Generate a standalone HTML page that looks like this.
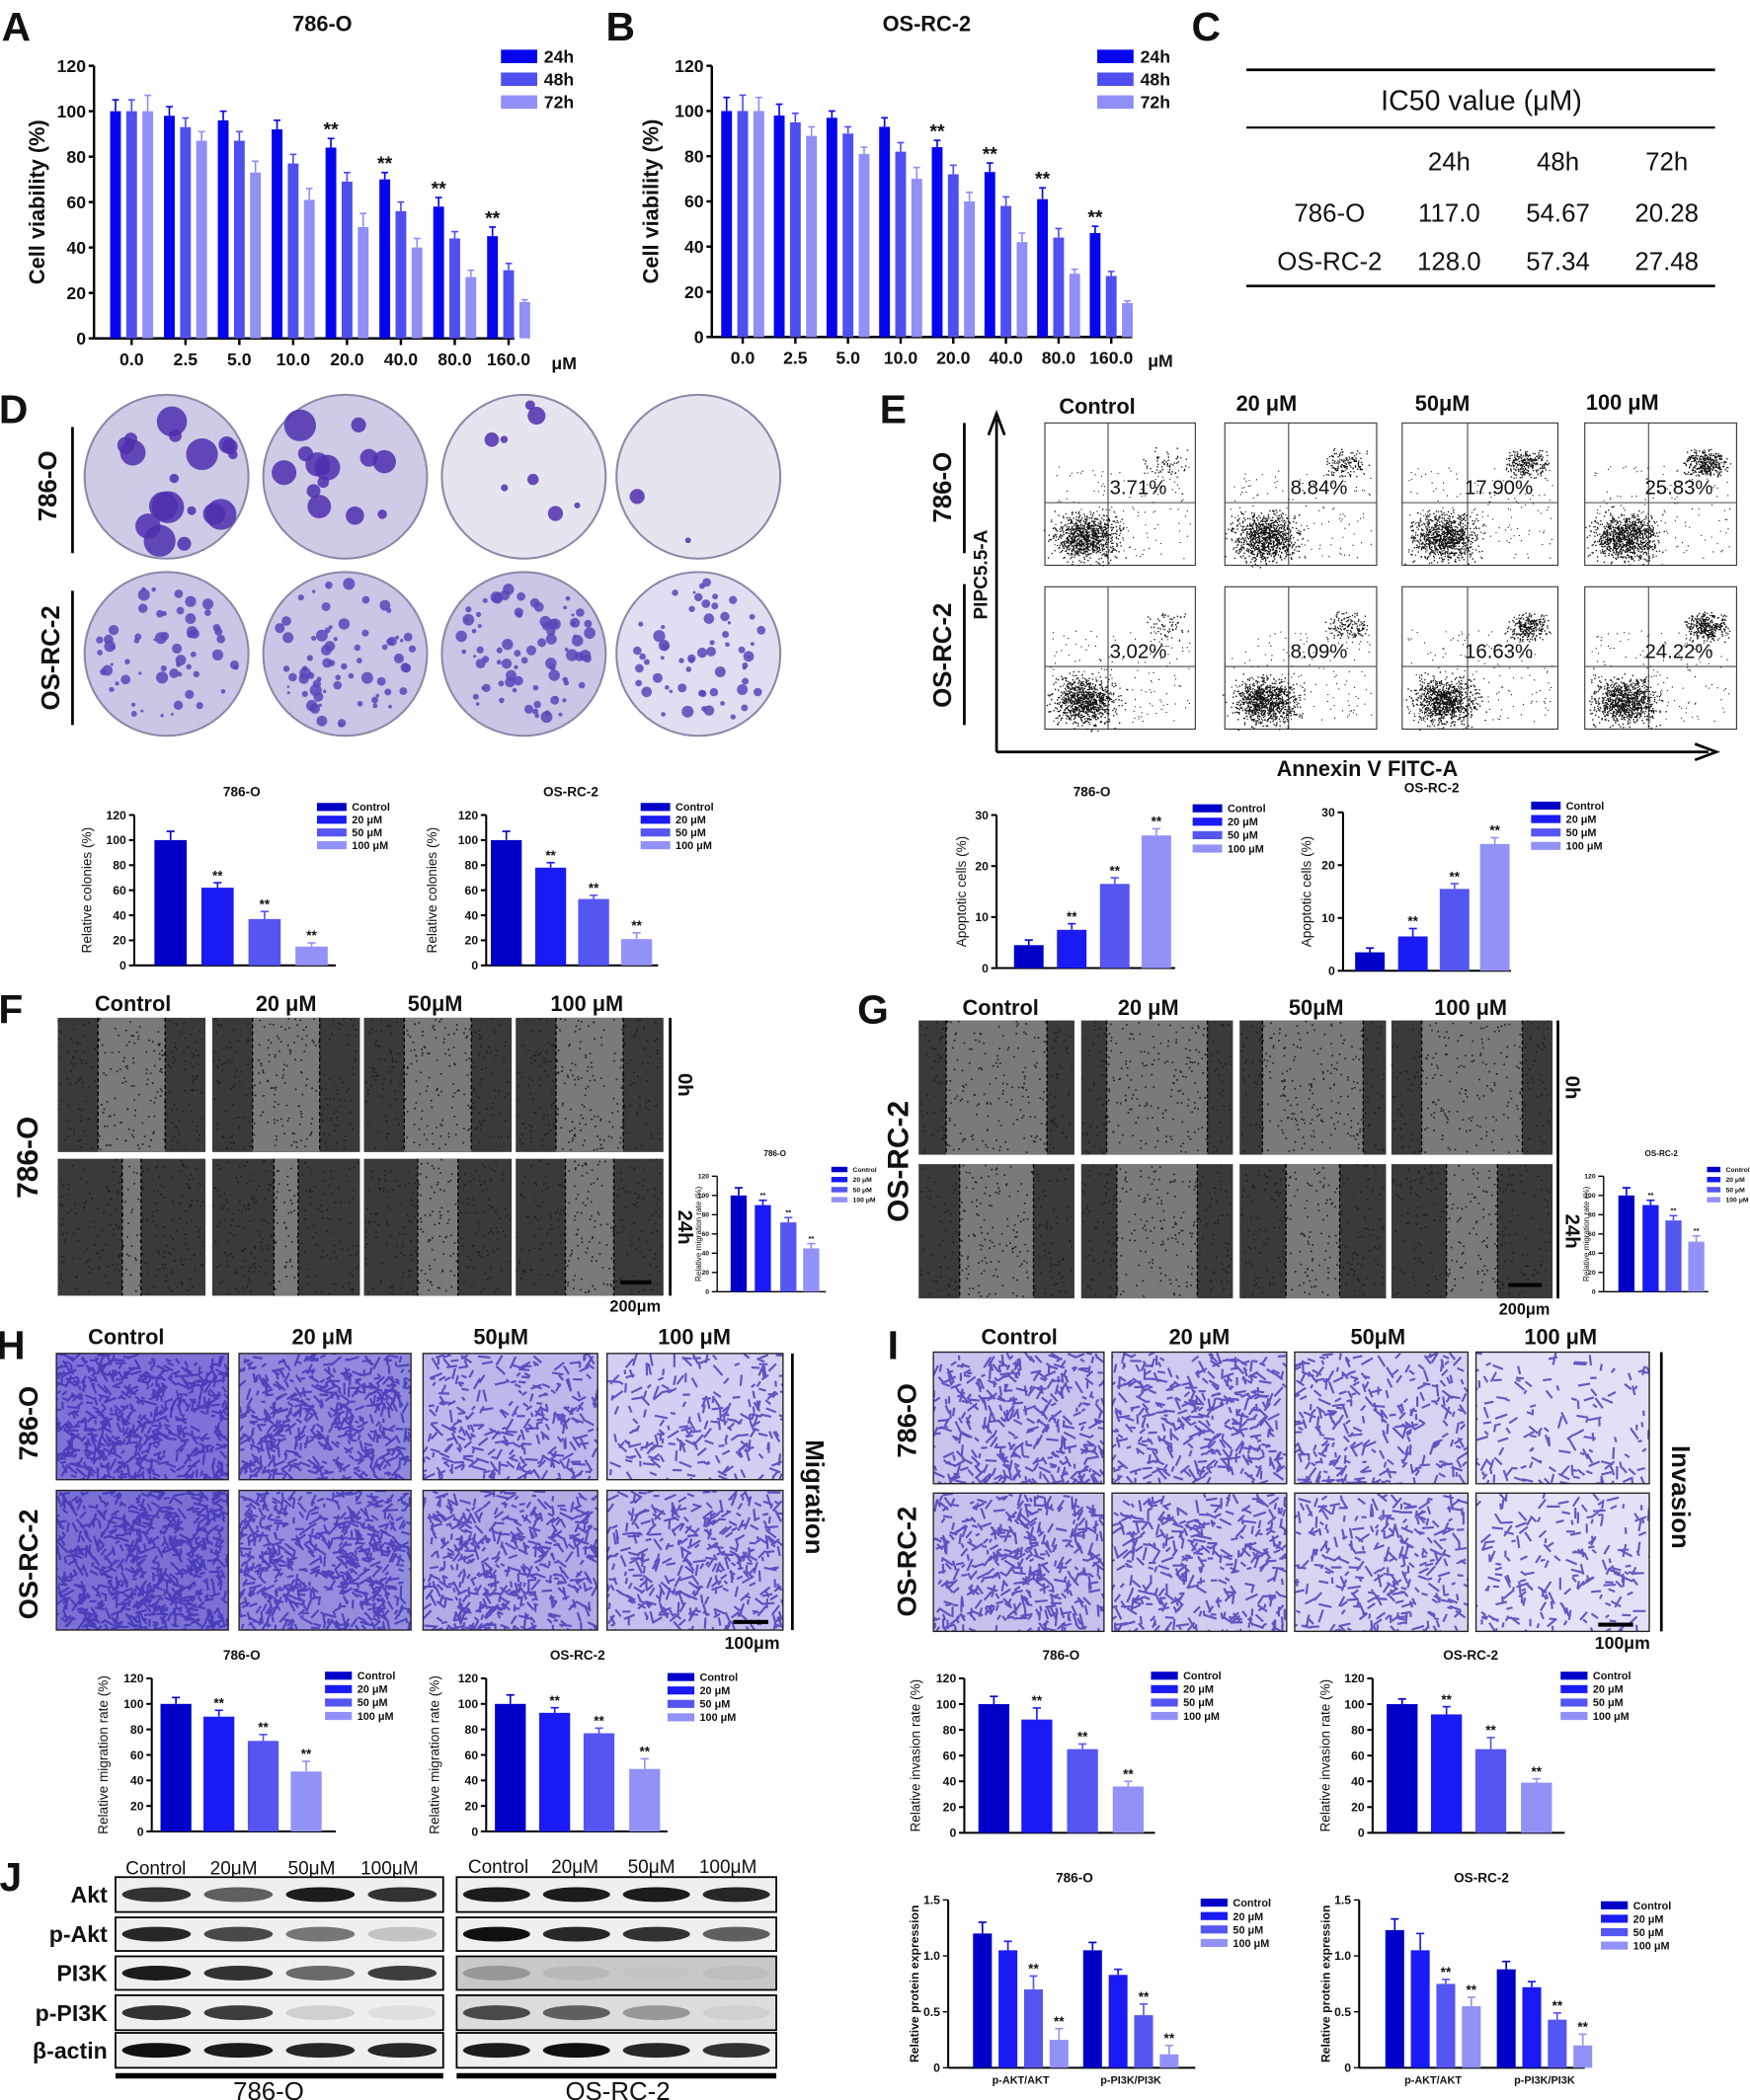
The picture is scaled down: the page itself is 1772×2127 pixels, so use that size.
<!DOCTYPE html>
<html><head><meta charset="utf-8"><style>
html,body{margin:0;padding:0;background:#fff}
svg{display:block}
text{font-family:"Liberation Sans",sans-serif}
</style></head><body>
<svg id="fig" width="1772" height="2127" viewBox="0 0 1303 1564" preserveAspectRatio="none" xmlns="http://www.w3.org/2000/svg"></svg>
<script>
// ===== chart data =====
const concLabels=["0.0","2.5","5.0","10.0","20.0","40.0","80.0","160.0"];
const timeLabels=["24h","48h","72h"];
const a24=[100,98,96,92,84,70,58,45];
const a48=[100,93,87,77,69,56,44,30];
const a72=[100,87,73,61,49,40,27,16];
const aErr24=[5,4,4,4,4,3,4,4];
const aErr48=[5,4,4,4,4,4,3,3];
const aErr72=[7,4,5,5,6,4,3,1];
const b24=[100,98,97,93,84,73,61,46];
const b48=[100,95,90,82,72,58,44,27];
const b72=[100,89,81,70,60,42,28,15];
const bErr24=[6,5,3,4,3,4,5,3];
const bErr48=[7,4,3,4,4,4,4,2];
const bErr72=[6,4,3,5,4,4,2,1];
const doseLabels=["Control","20 μM","50 μM","100 μM"];
const dColony786=[100,62,37,15];   const dColonyErr786=[7,4,6,3];
const dColonyOS=[100,78,53,21];    const dColonyErrOS=[7,4,3,5];
const eApop786=[4.5,7.5,16.5,26];  const eApopErr786=[1,1.2,1.2,1.3];
const eApopOS=[3.5,6.5,15.5,24];   const eApopErrOS=[0.8,1.5,1,1.2];
const fMig786=[100,90,72,45];      const fMigErr786=[8,5,5,5];
const gMigOS=[100,90,74,52];       const gMigErrOS=[8,5,5,6];
const hMig786=[100,90,71,47];      const hMigErr786=[5,5,5,8];
const hMigOS=[100,93,77,49];       const hMigErrOS=[7,4,4,8];
const iInv786=[100,88,65,36];      const iInvErr786=[6,9,4,4];
const iInvOS=[100,92,65,39];       const iInvErrOS=[4,6,9,3];
const jGroups=["p-AKT/AKT","p-PI3K/PI3K"];
const jAkt786=[1.2,1.05,0.7,0.25];   const jAktErr786=[0.1,0.08,0.12,0.1];
const jPi786=[1.05,0.83,0.47,0.12];  const jPiErr786=[0.07,0.05,0.1,0.08];
const jAktOS=[1.23,1.05,0.75,0.55];  const jAktErrOS=[0.1,0.15,0.04,0.08];
const jPiOS=[0.88,0.72,0.43,0.2];    const jPiErrOS=[0.07,0.05,0.06,0.1];
const ic50Rows=[["786-O","117.0","54.67","20.28"],["OS-RC-2","128.0","57.34","27.48"]];
const flowPct=[["3.71%","8.84%","17.90%","25.83%"],["3.02%","8.09%","16.63%","24.22%"]];

const NS="http://www.w3.org/2000/svg";
const svg=document.getElementById('fig');
const defs=document.createElementNS(NS,'defs');svg.appendChild(defs);
let clipN=0;
function el(tag,attrs,parent,txt){const e=document.createElementNS(NS,tag);for(const k in attrs)e.setAttribute(k,attrs[k]);if(txt!==undefined)e.textContent=txt;(parent||svg).appendChild(e);return e;}
function txt(x,y,s,size,opt,parent){opt=opt||{};const t=el('text',{x:x,y:y,'font-size':size,'text-anchor':opt.anchor||'middle','font-weight':opt.weight||'bold',fill:opt.fill||'#111'},parent,s);if(opt.rot)t.setAttribute('transform','rotate('+opt.rot+' '+x+' '+y+')');if(opt.ff)t.setAttribute('style','font-family:'+opt.ff);return t;}
function clipRect(x,y,w,h){const id='c'+(clipN++);const cp=el('clipPath',{id:id},defs);el('rect',{x:x,y:y,width:w,height:h},cp);return 'url(#'+id+')';}
let seed=12345;function rnd(){seed=(seed*16807)%2147483647;return (seed-1)/2147483646;}
const C4=["#0000c8","#1a1af5","#5555f2","#9292f6"];
const C3=["#0505ee","#4f4ff0","#8f8ff6"];
const NAR='"Liberation Sans Narrow","Liberation Sans",sans-serif';

function barChart(o){
  const g=el('g',{},svg);
  
  
  const sy=v=>o.y0-(v/o.ymax)*(o.y0-o.ytop);
  el('line',{x1:o.ax,y1:o.ytop,x2:o.ax,y2:o.y0,stroke:'#000','stroke-width':o.lw},g);
  el('line',{x1:o.ax,y1:o.y0,x2:o.xend,y2:o.y0,stroke:'#000','stroke-width':o.lw},g);
  o.ticks.forEach(t=>{const y=sy(t);el('line',{x1:o.ax-4,y1:y,x2:o.ax,y2:y,stroke:'#000','stroke-width':o.lw},g);
    const lab=txt(o.ax-6,y+o.fs*0.35,String(t),o.fs,{anchor:'end'},g);});
  o.series.forEach((s,si)=>{s.forEach((v,i)=>{
    const cx=o.centers[i]+(si-(o.series.length-1)/2)*o.step;
    const r=el('rect',{x:cx-o.bw/2,y:sy(v),width:o.bw,height:o.y0-sy(v),fill:o.colors[si]},g);
    
    if(o.errs){const e=o.errs[si][i];const ey=sy(v+e);el('line',{x1:cx,y1:sy(v),x2:cx,y2:ey,stroke:o.colors[si],'stroke-width':1.2},g);el('line',{x1:cx-2.5,y1:ey,x2:cx+2.5,y2:ey,stroke:o.colors[si],'stroke-width':1.2},g);
      if(o.stars&&o.stars[si][i]){txt(cx,ey-2,'**',o.fs*1.1,{},g);}}
  });});
  if(o.xlabels){o.xlabels.forEach((l,i)=>{el('line',{x1:o.centers[i],y1:o.y0,x2:o.centers[i],y2:o.y0+5,stroke:'#000','stroke-width':o.lw},g);txt(o.centers[i],o.y0+o.xfs+7,l,o.xfs,{},g);});}
  if(o.title)txt(o.tx,o.ty,o.title,o.tfs||o.fs*1.1,{},g);
  if(o.ylabel)txt(o.ylx,(o.ytop+o.y0)/2,o.ylabel,o.yfs||o.fs,{rot:-90,weight:o.ylw||'normal'},g);
  if(o.legend){o.legend.labels.forEach((l,i)=>{const ly=o.legend.y+i*o.legend.dy;
    const lr=el('rect',{x:o.legend.x,y:ly-o.legend.h/2,width:o.legend.w,height:o.legend.h,fill:o.colors[i]},g);
    
    txt(o.legend.x+o.legend.w+5,ly+o.legend.fs*0.35,l,o.legend.fs,{anchor:'start'},g);});}
  return g;
}

[["A",12,30],["B",462,30],["C",898,30],["D",10,315],["E",665,315],["F",8,762],["G",650,762],["H",8,1012],["I",665,1012],["J",8,1408]].forEach(p=>{const t=txt(p[1],p[2],p[0],30,{ff:NAR});});

function range(n){return Array.from({length:n},(_,i)=>i);}
const starA=[[0,0,0,0,1,1,1,1],[0,0,0,0,0,0,0,0],[0,0,0,0,0,0,0,0]];
barChart({name:'chart-a-786o',ax:70,y0:252,ytop:49,ymax:120,xend:383,ticks:[0,20,40,60,80,100,120],lw:1.8,fs:13,
  centers:range(8).map(i=>98+i*40.1),series:[a24,a48,a72],errs:[aErr24,aErr48,aErr72],stars:starA,colors:C3,bw:8,step:12,
  xlabels:concLabels,xfs:13,title:'786-O',tx:240,ty:23,tfs:16,ylabel:'Cell viability (%)',ylx:33,yfs:16,ylw:'bold',
  legend:{x:373,y:42,dy:17,w:27,h:10,fs:13,labels:timeLabels}});
txt(420,275,'μM',13);
barChart({name:'chart-b-osrc2',ax:530,y0:251,ytop:49,ymax:120,xend:843,ticks:[0,20,40,60,80,100,120],lw:1.8,fs:13,
  centers:range(8).map(i=>553+i*39.2),series:[b24,b48,b72],errs:[bErr24,bErr48,bErr72],stars:starA,colors:C3,bw:8,step:12,
  xlabels:concLabels,xfs:13,title:'OS-RC-2',tx:690,ty:23,tfs:16,ylabel:'Cell viability (%)',ylx:490,yfs:16,ylw:'bold',
  legend:{x:817,y:42,dy:17,w:27,h:10,fs:13,labels:timeLabels}});
txt(864,273,'μM',13);

(function(){const g=el('g',{},svg);
el('line',{x1:928,y1:52,x2:1277,y2:52,stroke:'#000','stroke-width':2},g);
el('line',{x1:928,y1:95,x2:1277,y2:95,stroke:'#000','stroke-width':1.5},g);
el('line',{x1:928,y1:213,x2:1277,y2:213,stroke:'#000','stroke-width':2},g);
txt(1103,82,'IC50 value (μM)',21,{ff:NAR,weight:'normal'},g);
["24h","48h","72h"].forEach((h,i)=>txt(1079+i*81,127,h,19,{ff:NAR,weight:'normal'},g));
ic50Rows.forEach((r,ri)=>{const y=165+ri*36;txt(990,y,r[0],19,{ff:NAR,weight:'normal'},g);for(let k=1;k<4;k++)txt(998+k*81,y,r[k],19,{ff:NAR,weight:'normal'},g);});})();

const doseHdr=["Control","20 μM","50 μM","100 μM"];
[124,257,390,520].forEach((x,i)=>txt(x,316,doseHdr[i],17,{ff:NAR}));
const colonyCounts=[[18,14,8,2],[60,70,80,60]];
[[355,0],[487,1]].forEach(([cy,row])=>{[124,257,390,520].forEach((cx,ci)=>{
  const g=el('g',{},svg);
  const bg=row===1?(ci<3?'#c9c6e6':'#e0def0'):(ci<2?'#cfcbe6':'#e6e4ee');
  el('circle',{cx:cx,cy:cy,r:61,fill:bg,stroke:'#8a88a8','stroke-width':1.5},g);
  const n=colonyCounts[row][ci];
  for(let k=0;k<n;k++){const a=rnd()*6.28,rr=Math.sqrt(rnd())*54;const s=row===0?(ci<2?3+rnd()*9:2+rnd()*5):1+rnd()*3.5;
    el('circle',{cx:cx+Math.cos(a)*rr,cy:cy+Math.sin(a)*rr,r:s,fill:row===0?'#4d2fae':'#5a45b8','fill-opacity':0.85},g);}
});});
txt(42,362,'786-O',19,{rot:-90,ff:NAR});el('line',{x1:54,y1:318,x2:54,y2:412,stroke:'#000','stroke-width':2});
txt(44,490,'OS-RC-2',19,{rot:-90,ff:NAR});el('line',{x1:54,y1:440,x2:54,y2:540,stroke:'#000','stroke-width':2});

function doseChart(o){
  const g=barChart(Object.assign({},o,{series:[o.vals.map(()=>0)],errs:null,colors:['none'],step:0,legend:null}));
  const sy=v=>o.y0-(v/o.ymax)*(o.y0-o.ytop);
  o.vals.forEach((v,i)=>{const cx=o.centers[i];
    const r=el('rect',{x:cx-o.bw/2,y:sy(v),width:o.bw,height:o.y0-sy(v),fill:C4[i]},g);
    
    const ey=sy(v+o.errs[i]);el('line',{x1:cx,y1:sy(v),x2:cx,y2:ey,stroke:C4[i],'stroke-width':1.2},g);el('line',{x1:cx-3,y1:ey,x2:cx+3,y2:ey,stroke:C4[i],'stroke-width':1.2},g);
    if(i>0)txt(cx,ey-2,'**',o.fs*1.1,{},g);});
  if(o.leg){doseLabels.forEach((l,i)=>{const ly=o.leg.y+i*o.leg.dy;
    const lr=el('rect',{x:o.leg.x,y:ly-o.leg.h/2,width:o.leg.w,height:o.leg.h,fill:C4[i]},g);
    
    txt(o.leg.x+o.leg.w+4,ly+o.leg.fs*0.35,l,o.leg.fs,{anchor:'start'},g);});}
}
doseChart({name:'chart-d-786o',ax:100,y0:719,ytop:607,ymax:120,xend:250,ticks:[0,20,40,60,80,100,120],lw:1.5,fs:9,
  centers:[127,162,197,232],vals:dColony786,errs:dColonyErr786,bw:24,title:'786-O',tx:180,ty:593,tfs:10,
  ylabel:'Relative colonies (%)',ylx:68,yfs:10,leg:{x:236,y:601,dy:9.5,w:22,h:6,fs:8}});
doseChart({name:'chart-d-osrc2',ax:362,y0:719,ytop:607,ymax:120,xend:490,ticks:[0,20,40,60,80,100,120],lw:1.5,fs:9,
  centers:[377,410,442,474],vals:dColonyOS,errs:dColonyErrOS,bw:23,title:'OS-RC-2',tx:425,ty:593,tfs:10,
  ylabel:'Relative colonies (%)',ylx:325,yfs:10,leg:{x:477,y:601,dy:9.5,w:22,h:6,fs:8}});

txt(817,308,'Control',16,{ff:NAR});txt(943,306,'20 μM',16,{ff:NAR});txt(1074,306,'50μM',16,{ff:NAR});txt(1208,305,'100 μM',16,{ff:NAR});
el('line',{x1:742,y1:560,x2:742,y2:312,stroke:'#000','stroke-width':2});el('path',{d:'M736,324 L742,308 L748,324',fill:'none',stroke:'#000','stroke-width':2});
el('line',{x1:742,y1:560,x2:1272,y2:560,stroke:'#000','stroke-width':2});el('path',{d:'M1262,554 L1278,560 L1262,566',fill:'none',stroke:'#000','stroke-width':2});
txt(1018,578,'Annexin V FITC-A',16,{ff:NAR});
txt(735,428,'PIPC5.5-A',14,{rot:-90,ff:NAR});
txt(708,363,'786-O',19,{rot:-90,ff:NAR});el('line',{x1:718,y1:315,x2:718,y2:412,stroke:'#000','stroke-width':2});
txt(708,488,'OS-RC-2',19,{rot:-90,ff:NAR});el('line',{x1:718,y1:435,x2:718,y2:540,stroke:'#000','stroke-width':2});
const flowX=[778,912,1044,1180],flowW=[112,113,116,113];
[[315,0],[437,1]].forEach(([y,row])=>{flowX.forEach((x,ci)=>{
  const g=el('g',{},svg);
  const w=flowW[ci],h=106;el('rect',{x:x,y:y,width:w,height:h,fill:'#fff',stroke:'#333','stroke-width':0.8},g);
  const qx=x+w*0.42,qy=y+h*0.56;el('line',{x1:qx,y1:y,x2:qx,y2:y+h,stroke:'#444','stroke-width':0.8},g);el('line',{x1:x,y1:qy,x2:x+w,y2:qy,stroke:'#444','stroke-width':0.8},g);
  let p='';const cx=x+w*0.27,cy=y+h*0.8;
  for(let k=0;k<900;k++){const dx=(rnd()+rnd()+rnd()-1.5)*22,dy=(rnd()+rnd()+rnd()-1.5)*16;p+='M'+(cx+dx).toFixed(1)+','+(cy+dy).toFixed(1)+'h1v1h-1z';}
  for(let k=0;k<150;k++){p+='M'+(x+4+rnd()*(w-8)).toFixed(1)+','+(y+h*0.3+rnd()*h*0.65).toFixed(1)+'h0.8v0.8h-0.8z';}
  const nUR=[60,140,260,330][ci];const ux=x+w*0.8,uy=y+h*0.28;
  for(let k=0;k<nUR;k++){const dx=(rnd()+rnd()-1)*18,dy=(rnd()+rnd()-1)*12;p+='M'+(ux+dx).toFixed(1)+','+(uy+dy).toFixed(1)+'h1v1h-1z';}
  el('path',{d:p,fill:'#111'},g);
  txt(x+w*0.62,y+h*0.5,flowPct[row][ci],15,{ff:NAR,weight:'normal'},g);
});});

doseChart({name:'chart-e-786o',ax:742,y0:721,ytop:607,ymax:30,xend:875,ticks:[0,10,20,30],lw:1.5,fs:9,
  centers:[766,798,830,861],vals:eApop786,errs:eApopErr786,bw:22,title:'786-O',tx:813,ty:593,tfs:10,
  ylabel:'Apoptotic cells (%)',ylx:719,yfs:10,leg:{x:888,y:602,dy:10,w:22,h:6,fs:8}});
doseChart({name:'chart-e-osrc2',ax:1000,y0:723,ytop:605,ymax:30,xend:1125,ticks:[0,10,20,30],lw:1.5,fs:9,
  centers:[1020,1052,1083,1113],vals:eApopOS,errs:eApopErrOS,bw:22,title:'OS-RC-2',tx:1066,ty:590,tfs:10,
  ylabel:'Apoptotic cells (%)',ylx:976,yfs:10,leg:{x:1140,y:600,dy:10,w:22,h:6,fs:8}});

function wound(xs,ws,ys,hs,gaps,name){xs.forEach((x,ci)=>{ys.forEach((y,ri)=>{
  const g=el('g',{},svg);
  el('rect',{x:x,y:y,width:ws[ci],height:hs[ri],fill:'#3a3a3a'},g);
  const gw=gaps[ri][ci],mx=x+ws[ci]*0.5;
  el('rect',{x:mx-gw/2,y:y,width:gw,height:hs[ri],fill:'#7a7a7a'},g);
  let p='';for(let k=0;k<250;k++){p+='M'+(x+rnd()*(ws[ci]-2)).toFixed(1)+','+(y+rnd()*(hs[ri]-2)).toFixed(1)+'h1.2v1.2h-1.2z';}
  el('path',{d:p,fill:'#1e1e1e'},g);
  el('line',{x1:mx-gw/2,y1:y,x2:mx-gw/2,y2:y+hs[ri],stroke:'#000','stroke-dasharray':'3,2','stroke-width':1},g);
  el('line',{x1:mx+gw/2,y1:y,x2:mx+gw/2,y2:y+hs[ri],stroke:'#000','stroke-dasharray':'3,2','stroke-width':1},g);
});});}
[[99,'Control'],[213,'20 μM'],[324,'50μM'],[437,'100 μM']].forEach(p=>txt(p[0],753,p[1],16,{ff:NAR}));
wound([43,158,271,384],[110,110,110,110],[758,863],[100,102],[[50,50,50,50],[14,18,30,36]],'wound-image-786o');
el('line',{x1:499,y1:758,x2:499,y2:965,stroke:'#000','stroke-width':2});
txt(505,808,'0h',15,{rot:90,ff:NAR});txt(505,914,'24h',15,{rot:90,ff:NAR});
txt(28,862,'786-O',22,{rot:-90,ff:NAR});
el('line',{x1:462,y1:955,x2:485,y2:955,stroke:'#000','stroke-width':3});txt(473,977,'200μm',12,{ff:NAR});
[[745,'Control'],[855,'20 μM'],[980,'50μM'],[1095,'100 μM']].forEach(p=>txt(p[0],756,p[1],16,{ff:NAR}));
wound([684,805,923,1036],[116,113,109,120],[760,867],[100,100],[[75,75,75,75],[55,60,40,38]],'wound-image-osrc2');
el('line',{x1:1160,y1:760,x2:1160,y2:967,stroke:'#000','stroke-width':2});
txt(1166,810,'0h',15,{rot:90,ff:NAR});txt(1166,917,'24h',15,{rot:90,ff:NAR});
txt(676,865,'OS-RC-2',22,{rot:-90,ff:NAR});
el('line',{x1:1123,y1:957,x2:1148,y2:957,stroke:'#000','stroke-width':3});txt(1135,979,'200μm',12,{ff:NAR});

doseChart({name:'chart-f-786o',ax:534,y0:962,ytop:876,ymax:120,xend:615,ticks:[0,20,40,60,80,100,120],lw:1,fs:5,
  centers:[550,568,587,604],vals:fMig786,errs:fMigErr786,bw:12,title:'786-O',tx:577,ty:861,tfs:6,
  ylabel:'Relative migration rate (%)',ylx:522,yfs:6,leg:{x:619,y:871,dy:7.5,w:12,h:4,fs:5}});
doseChart({name:'chart-g-osrc2',ax:1194,y0:962,ytop:876,ymax:120,xend:1272,ticks:[0,20,40,60,80,100,120],lw:1,fs:5,
  centers:[1211,1229,1246,1263],vals:gMigOS,errs:gMigErrOS,bw:12,title:'OS-RC-2',tx:1237,ty:861,tfs:6,
  ylabel:'Relative migration rate (%)',ylx:1183,yfs:6,leg:{x:1271,y:871,dy:7.5,w:10,h:4,fs:5}});

function cells(xs,ws,ys,hs,dens,bgc,name){xs.forEach((x,ci)=>{ys.forEach((y,ri)=>{
  const g=el('g',{},svg);
  el('rect',{x:x,y:y,width:ws[ci],height:hs[ri],fill:bgc[ri][ci]},g);
  let p='';const n=dens[ri][ci];
  for(let k=0;k<n;k++){const px=x+rnd()*ws[ci],py=y+rnd()*hs[ri],a=rnd()*Math.PI,l=3+rnd()*7;
    p+='M'+px.toFixed(1)+','+py.toFixed(1)+'l'+(Math.cos(a)*l).toFixed(1)+','+(Math.sin(a)*l).toFixed(1);}
  el('path',{d:p,stroke:'#3a2cb0','stroke-width':1.6,'stroke-opacity':0.75,fill:'none','clip-path':clipRect(x,y,ws[ci],hs[ri])},g);
  el('rect',{x:x,y:y,width:ws[ci],height:hs[ri],fill:'none',stroke:'#222','stroke-width':1},g);
});});}
[[94,'Control'],[240,'20 μM'],[373,'50μM'],[517,'100 μM']].forEach(p=>txt(p[0],1001,p[1],16,{ff:NAR}));
cells([42,178,315,452],[128,128,130,131],[1008,1110],[94,104],[[600,520,300,220],[700,650,480,380]],
  [['#7d72d8','#9189dc','#bdb8ec','#d2cff2'],['#7a70d4','#948ddd','#b1abe6','#c3bfed']],'migration-image');
el('line',{x1:590,y1:1008,x2:590,y2:1214,stroke:'#000','stroke-width':2});txt(600,1115,'Migration',19,{rot:90,ff:NAR});
txt(28,1060,'786-O',20,{rot:-90,ff:NAR});txt(28,1165,'OS-RC-2',20,{rot:-90,ff:NAR});
el('line',{x1:546,y1:1208,x2:572,y2:1208,stroke:'#000','stroke-width':3});txt(560,1228,'100μm',13,{ff:NAR});
[[759,'Control'],[893,'20 μM'],[1026,'50μM'],[1162,'100 μM']].forEach(p=>txt(p[0],1001,p[1],16,{ff:NAR}));
cells([695,828,964,1099],[127,130,129,129],[1007,1112],[98,103],[[400,380,300,150],[420,380,300,200]],
  [['#c9c4ee','#cfcaf0','#d6d3f2','#e2e0f5'],['#c6c1ec','#d0ccef','#d8d5f2','#e3e1f6']],'invasion-image');
el('line',{x1:1237,y1:1007,x2:1237,y2:1215,stroke:'#000','stroke-width':2});txt(1245,1115,'Invasion',19,{rot:90,ff:NAR});
txt(682,1058,'786-O',20,{rot:-90,ff:NAR});txt(682,1163,'OS-RC-2',20,{rot:-90,ff:NAR});
el('line',{x1:1190,y1:1210,x2:1216,y2:1210,stroke:'#000','stroke-width':3});txt(1208,1228,'100μm',13,{ff:NAR});

doseChart({name:'chart-h-786o',ax:113,y0:1364,ytop:1250,ymax:120,xend:250,ticks:[0,20,40,60,80,100,120],lw:1.5,fs:9,
  centers:[131,163,196,228],vals:hMig786,errs:hMigErr786,bw:23,title:'786-O',tx:180,ty:1236,tfs:10,
  ylabel:'Relative migration rate (%)',ylx:80,yfs:10,leg:{x:242,y:1248,dy:10,w:20,h:6,fs:8}});
doseChart({name:'chart-h-osrc2',ax:362,y0:1364,ytop:1250,ymax:120,xend:497,ticks:[0,20,40,60,80,100,120],lw:1.5,fs:9,
  centers:[380,413,446,480],vals:hMigOS,errs:hMigErrOS,bw:23,title:'OS-RC-2',tx:430,ty:1236,tfs:10,
  ylabel:'Relative migration rate (%)',ylx:327,yfs:10,leg:{x:497,y:1249,dy:10,w:20,h:6,fs:8}});
doseChart({name:'chart-i-786o',ax:718,y0:1365,ytop:1250,ymax:120,xend:860,ticks:[0,20,40,60,80,100,120],lw:1.5,fs:9,
  centers:[740,772,806,840],vals:iInv786,errs:iInvErr786,bw:23,title:'786-O',tx:790,ty:1236,tfs:10,
  ylabel:'Relative invasion rate (%)',ylx:685,yfs:10,leg:{x:857,y:1248,dy:10,w:20,h:6,fs:8}});
doseChart({name:'chart-i-osrc2',ax:1022,y0:1365,ytop:1250,ymax:120,xend:1165,ticks:[0,20,40,60,80,100,120],lw:1.5,fs:9,
  centers:[1044,1077,1110,1144],vals:iInvOS,errs:iInvErrOS,bw:23,title:'OS-RC-2',tx:1095,ty:1236,tfs:10,
  ylabel:'Relative invasion rate (%)',ylx:990,yfs:10,leg:{x:1162,y:1248,dy:10,w:20,h:6,fs:8}});

const blotRows=["Akt","p-Akt","PI3K","p-PI3K","β-actin"];
const blotY=[1398,1428,1457,1486,1514],blotH=[26,25,25,26,26];
const bandL=[[0.8,0.6,0.9,0.8],[0.85,0.7,0.5,0.15],[0.9,0.8,0.55,0.75],[0.8,0.75,0.1,0.03],[0.95,0.9,0.85,0.85]];
const bandR=[[0.9,0.9,0.9,0.85],[0.95,0.85,0.8,0.6],[0.35,0.2,0.15,0.18],[0.7,0.6,0.35,0.1],[0.9,0.95,0.85,0.8]];
[[86,330,bandL,'786o'],[340,578,bandR,'osrc2']].forEach(([x0,x1,bands,nm])=>{
  blotRows.forEach((r,ri)=>{const g=el('g',{},svg);
    const bg=(nm==='osrc2'&&ri===2)?'#c8c8c8':(nm==='osrc2'&&ri===3)?'#dcdcdc':'#efefef';
    el('rect',{x:x0,y:blotY[ri],width:x1-x0,height:blotH[ri],fill:bg,stroke:'#000','stroke-width':1.3},g);
    const lw=(x1-x0)/4;
    bands[ri].forEach((v,li)=>{const c=Math.round(230-v*225);el('ellipse',{cx:x0+lw*(li+0.5),cy:blotY[ri]+blotH[ri]/2,rx:lw*0.42,ry:5.5,fill:'rgb('+c+','+c+','+c+')'},g);});
  });
  el('line',{x1:x0,y1:1546,x2:x1,y2:1546,stroke:'#000','stroke-width':4});
});
blotRows.forEach((r,ri)=>txt(80,blotY[ri]+blotH[ri]/2+6,r,17,{anchor:'end',ff:NAR}));
["Control","20μM","50μM","100μM"].forEach((l,i)=>{txt(116+i*58,1396,l,14,{ff:NAR,weight:'normal'});txt(371+i*57,1395,l,14,{ff:NAR,weight:'normal'});});
txt(200,1564,'786-O',19,{ff:NAR,weight:'normal'});txt(460,1564,'OS-RC-2',19,{ff:NAR,weight:'normal'});

function protChart(o){
  const g=el('g',{},svg);
  const sy=v=>o.y0-(v/1.5)*(o.y0-o.ytop);
  el('line',{x1:o.ax,y1:o.ytop,x2:o.ax,y2:o.y0,stroke:'#000','stroke-width':1.5},g);
  el('line',{x1:o.ax,y1:o.y0,x2:o.xend,y2:o.y0,stroke:'#000','stroke-width':1.5},g);
  [0,0.5,1.0,1.5].forEach(t=>{const y=sy(t);el('line',{x1:o.ax-4,y1:y,x2:o.ax,y2:y,stroke:'#000'},g);txt(o.ax-6,y+3,t===0?'0':t.toFixed(1),9,{anchor:'end'},g);});
  [o.g1,o.g2].forEach((vals,gi)=>{const errs=gi?o.e2:o.e1;vals.forEach((v,i)=>{const cx=o.centers[gi]+(i-1.5)*19;
    const r=el('rect',{x:cx-7,y:sy(v),width:14,height:o.y0-sy(v),fill:C4[i]},g);
    
    const ey=sy(v+errs[i]);el('line',{x1:cx,y1:sy(v),x2:cx,y2:ey,stroke:C4[i],'stroke-width':1.2},g);el('line',{x1:cx-3,y1:ey,x2:cx+3,y2:ey,stroke:C4[i],'stroke-width':1.2},g);
    if(i>1)txt(cx,ey-2,'**',10,{},g);});
    txt(o.centers[gi],o.y0+12,jGroups[gi],8,{},g);});
  txt(o.tx,1402,o.title,10,{},g);
  txt(o.ax-22,(o.ytop+o.y0)/2,'Relative protein expression',9,{rot:-90},g);
  doseLabels.forEach((l,i)=>{const ly=o.lx[1]+i*10;el('rect',{x:o.lx[0],y:ly-3,width:20,height:6,fill:C4[i]},g);txt(o.lx[0]+24,ly+3,l,8,{anchor:'start'},g);});
}
protChart({name:'chart-j-786o',ax:706,y0:1540,ytop:1415,xend:890,centers:[760,842],g1:jAkt786,e1:jAktErr786,g2:jPi786,e2:jPiErr786,title:'786-O',tx:800,lx:[894,1417]});
protChart({name:'chart-j-osrc2',ax:1012,y0:1540,ytop:1415,xend:1180,centers:[1067,1150],g1:jAktOS,e1:jAktErrOS,g2:jPiOS,e2:jPiErrOS,title:'OS-RC-2',tx:1103,lx:[1192,1419]});
</script>
</body></html>
